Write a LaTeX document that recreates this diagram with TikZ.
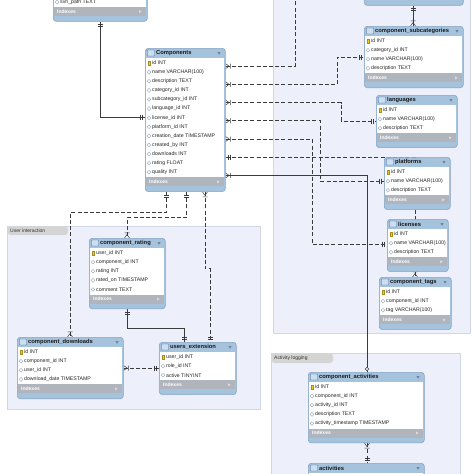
\documentclass[tikz,border=0pt]{standalone}
\usepackage{fontspec}
\setmainfont{Liberation Sans}
\usetikzlibrary{calc}
\usetikzlibrary{shapes.geometric}
\usetikzlibrary{decorations.markings}
\definecolor{hdrblue}{RGB}{166,195,222}
\definecolor{tblframe}{RGB}{134,164,195}
\definecolor{idxgray}{RGB}{176,180,188}
\definecolor{panelfill}{RGB}{237,239,250}
\definecolor{panelrule}{RGB}{210,214,228}
\definecolor{tabgray}{RGB}{212,212,212}
\definecolor{linkgray}{RGB}{58,58,58}
\definecolor{keyyellow}{RGB}{240,200,40}
\definecolor{colblue}{RGB}{140,160,190}
\definecolor{iconfill}{RGB}{205,222,240}
\definecolor{iconframe}{RGB}{70,110,160}
\definecolor{dropgray}{RGB}{110,130,160}
\tikzset{
  tblbox/.style={draw=tblframe, fill=hdrblue, rounded corners=3pt, line width=0.6pt, inner sep=0pt},
  tbltitle/.style={font=\fontsize{5.8}{6}\selectfont\bfseries, text=black!90, inner sep=0pt},
  coltext/.style={font=\fontsize{5.2}{6}\selectfont, text=black!85, inner sep=0pt},
  idxtext/.style={font=\fontsize{5}{6}\selectfont\bfseries, text=white, inner sep=0pt},
  tblicon/.style={draw=iconframe, fill=iconfill, rounded corners=0.6pt, line width=0.4pt, minimum width=7pt, minimum height=6pt, inner sep=0pt},
  tbldrop/.style={regular polygon, regular polygon sides=3, shape border rotate=180, fill=dropgray, minimum size=3.5pt, inner sep=0pt},
  idxtip/.style={regular polygon, regular polygon sides=3, shape border rotate=-90, fill=white!70!gray, minimum size=3.5pt, inner sep=0pt},
  kicon/.style={fill=keyyellow, draw=keyyellow!70!black, line width=0.2pt, minimum width=1.6pt, minimum height=4.5pt, inner sep=0pt},
  dicon/.style={diamond, draw=colblue, fill=white, line width=0.35pt, aspect=0.8, minimum size=4pt, inner sep=0pt},
  nicon/.style={inner sep=0pt},
  panel/.style={fill=panelfill, draw=panelrule, line width=0.6pt},
  tablab/.style={font=\fontsize{5}{6}\selectfont, text=black!80, inner sep=0pt},
  fklink/.style={draw=linkgray, line width=1pt, dash pattern=on 4pt off 2.2pt},
  idlink/.style={draw=linkgray, line width=1pt},
  crowstart/.style={postaction={decorate, decoration={markings,
    mark=at position 0.01pt with {\draw[solid, line width=0.5pt] (0pt,2.5pt) -- (3.5pt,0pt) -- (0pt,-2.5pt) (5pt,2.5pt) -- (5pt,-2.5pt);}}}},
  barsstart/.style={postaction={decorate, decoration={markings,
    mark=at position 0.01pt with {\draw[solid, line width=0.5pt] (3pt,2.5pt) -- (3pt,-2.5pt) (5pt,2.5pt) -- (5pt,-2.5pt);}}}},
  crowend/.style={postaction={decorate, decoration={markings,
    mark=at position -0.01pt with {\draw[solid, line width=0.5pt] (0pt,2.5pt) -- (-3.5pt,0pt) -- (0pt,-2.5pt) (-5pt,2.5pt) -- (-5pt,-2.5pt);}}}},
  barsend/.style={postaction={decorate, decoration={markings,
    mark=at position -0.01pt with {\draw[solid, line width=0.5pt] (-3pt,2.5pt) -- (-3pt,-2.5pt) (-5pt,2.5pt) -- (-5pt,-2.5pt);}}}},
  ringend/.style={postaction={decorate, decoration={markings,
    mark=at position -0.01pt with {\draw[solid, line width=0.5pt, fill=white] (-3pt,0pt) circle (1.8pt);}}}}
}
\pgfdeclarelayer{panels}
\pgfdeclarelayer{links}
\pgfsetlayers{panels,links,main}
\newcommand{\erdtable}[6]{% {name}{x,y}{width}{rows}{title}{icon/column,...}
  \begin{scope}[shift={(#2)}]
    \pgfmathsetmacro{\tblrowend}{11+9.1*#4}
    \node[tblbox, minimum width=#3pt, minimum height=\tblrowend pt+14pt, anchor=north west] (#1) at (0,0) {}; % frame
    \fill[white] (1,10) rectangle (#3-1,\tblrowend); % columns
    \fill[idxgray] (1,\tblrowend) rectangle (#3-1,\tblrowend+9); % indexes bar
    \node[tblicon] at (6,5) {};
    \node[tbltitle, anchor=west] (#1-title) at (11,5) {#5};
    \node[tbldrop] at (#3-6,5) {};
    \node[idxtext, anchor=west] (#1-idx) at (4,\tblrowend+4.5) {Indexes};
    \node[idxtip] at (#3-7,\tblrowend+4.5) {};
    \foreach \ic/\col [count=\n] in {#6} {
      \node[\ic icon] at (4,6+9.1*\n) {}; % key or column mark
      \node[coltext, anchor=west] (#1-r\n) at (7,6+9.1*\n) {\col};
    }
  \end{scope}
}

\begin{document}
\begin{tikzpicture}[x=1pt, y=-1pt]
  \useasboundingbox (0,0) rectangle (474,474);
  \begin{pgfonlayer}{panels}
    \fill[white] (0,0) rectangle (474,474);
    \draw[panel] (273,-5) rectangle (470,333);
    \draw[panel] (7,226) rectangle (260,409);
    \fill[tabgray, rounded corners=3pt] (7.5,226.5) rectangle (68,235);
    \node[tablab, anchor=west] (uilab) at (10,230.8) {User interaction};
    \draw[panel] (271,353) rectangle (460,480);
    \fill[tabgray, rounded corners=3pt] (271.5,353.5) rectangle (333,363);
    \node[tablab, anchor=west] (allab) at (274,358) {Activity logging};
  \end{pgfonlayer}

  \erdtable{repo}{53,-13}{94}{1}{}{d/svn\_path TEXT}
  \erdtable{comp}{145,48}{80}{13}{Components}{k/id INT, d/name VARCHAR(100), d/description TEXT, d/category\_id INT, d/subcategory\_id INT, d/language\_id INT, d/license\_id INT, d/platform\_id INT, d/creation\_date TIMESTAMP, d/created\_by INT, d/downloads INT, d/rating FLOAT, d/quality INT}
  \erdtable{topr}{364,-29}{99}{1}{}{n/}
  \erdtable{subcat}{364,26}{99}{4}{component\_subcategories}{k/id INT, d/category\_id INT, d/name VARCHAR(100), d/description TEXT}
  \erdtable{lang}{376,95}{81}{3}{languages}{k/id INT, d/name VARCHAR(100), d/description TEXT}
  \erdtable{plat}{384,157}{66}{3}{platforms}{k/id INT, d/name VARCHAR(100), d/description TEXT}
  \erdtable{lic}{387,219}{61}{3}{licenses}{k/id INT, d/name VARCHAR(100), d/description TEXT}
  \erdtable{tags}{379,277}{72}{3}{component\_tags}{k/id INT, d/component\_id INT, d/tag VARCHAR(100)}
  \erdtable{rat}{89,238}{76}{5}{component\_rating}{k/user\_id INT, d/component\_id INT, d/rating INT, d/rated\_on TIMESTAMP, d/comment TEXT}
  \erdtable{dl}{17,337}{106}{4}{component\_downloads}{k/id INT, d/component\_id INT, d/user\_id INT, d/download\_date TIMESTAMP}
  \erdtable{ux}{159,342}{77}{3}{users\_extension}{k/user\_id INT, d/role\_id INT, d/active TINYINT}
  \erdtable{act}{308,372}{116}{5}{component\_activities}{k/id INT, d/component\_id INT, d/activity\_id INT, d/description TEXT, d/activity\_timestamp TIMESTAMP}
  \erdtable{acts}{308,463}{116}{3}{activities}{n/}

  \begin{pgfonlayer}{links}
    % ends on the tables
    \foreach \k in {1,...,7}
      \coordinate (comp-out\k) at ($(comp.north east)+(0,18.2*\k)$);
    \coordinate (comp-down1) at ($(comp.south west)+(21,0)$);
    \coordinate (comp-down2) at ($(comp.south west)+(41,0)$);
    \coordinate (comp-down3) at ($(comp.south west)+(60,0)$);
    \coordinate (cattop) at (295,-3);
    \coordinate (subcat-in) at ($(subcat.north west)+(0,31)$);
    \coordinate (subcat-top) at ($(subcat.north west)+(49,0)$);
    \coordinate (lang-in) at ($(lang.north west)+(0,26)$);
    \coordinate (plat-in) at ($(plat.north west)+(0,24)$);
    \coordinate (lic-in) at ($(lic.north west)+(0,25)$);
    \coordinate (tags-in) at ($(tags.north west)+(36,0)$);
    \coordinate (act-in) at ($(act.north west)+(59,0)$);
    \coordinate (dl-in) at ($(dl.north west)+(53,0)$);
    \coordinate (dl-out) at ($(dl.north east)+(0,31)$);
    \coordinate (rat-in) at ($(rat.north west)+(38,0)$);
    \coordinate (rat-out) at ($(rat.south west)+(38,0)$);
    \coordinate (ux-in1) at ($(ux.north west)+(51,0)$);
    \coordinate (ux-in2) at ($(ux.north west)+(25,0)$);
    \coordinate (repo-out) at ($(repo.south west)+(47,0)$);

    \draw[idlink, barsstart, barsend] (repo-out) |- (comp.west |- comp-r7);
    \draw[idlink, barsstart, crowend] (topr.south -| subcat-top) -- (subcat-top);
    \draw[fklink, crowstart] (comp-out1) -| (cattop);
    \draw[fklink, crowstart, barsend] (comp-out2) -| ($(subcat-in)+(-27,0)$) -- (subcat-in);
    \draw[fklink, crowstart, barsend] (comp-out3) -| ($(lang-in)+(-35,0)$) -- (lang-in);
    \draw[fklink, crowstart, barsend] (comp-out4) -| ($(plat-in)+(-64,0)$) -- (plat-in);
    \draw[fklink, crowstart, barsend] (comp-out5) -| ($(lic-in)+(-75,0)$) -- (lic-in);
    \draw[fklink, barsstart, crowend] (comp-out6) -| (tags-in);
    \draw[idlink, crowstart, ringend] (comp-out7) -| (act-in);
    \draw[fklink, barsstart, crowend] (comp-down1) -- ++(0,21) -| (dl-in);
    \draw[fklink, barsstart, crowend] (comp-down2) -- ++(0,26) -| (rat-in);
    \draw[fklink, crowstart, barsend] (comp-down3) -- ++(0,77) -| (ux-in1);
    \draw[idlink, barsstart, barsend] (rat-out) -- ++(0,19) -| (ux-in2);
    \draw[fklink, crowstart, barsend] (dl-out) -- (ux.west |- dl-out);
    \draw[fklink, crowstart, barsend] (act.south -| act-in) -- (acts.north -| act-in);
  \end{pgfonlayer}
\end{tikzpicture}
\end{document}
